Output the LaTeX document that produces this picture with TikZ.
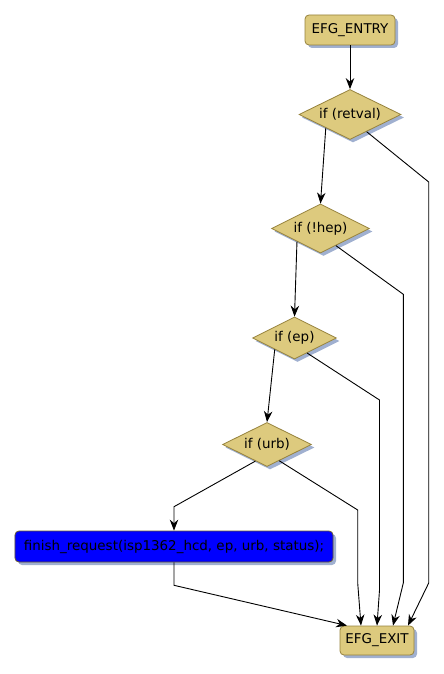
\documentclass[tikz,border=0pt]{standalone}
\usepackage{fontspec}
\setmainfont{DejaVu Sans}
\usetikzlibrary{shapes.geometric,shadows,arrows.meta,calc}
\definecolor{goldfill}{RGB}{221,202,126}
\definecolor{golddraw}{RGB}{150,130,60}
\definecolor{shadowc}{RGB}{160,176,208}
\definecolor{bluefill}{RGB}{0,0,255}
\tikzset{
  lbl/.style={font=\fontsize{13.5}{15}\selectfont, text=black},
  shad/.style={drop shadow={shadow xshift=3bp, shadow yshift=-3bp, fill=shadowc, opacity=1}},
  termbox/.style={lbl, shad, rectangle, rounded corners=4bp, draw=golddraw, fill=goldfill, line width=0.8bp, inner sep=0pt},
  cond/.style={lbl, shad, diamond, aspect=2, draw=golddraw, fill=goldfill, line width=0.8bp, inner sep=0pt},
  stmt/.style={lbl, shad, rectangle, rounded corners=4bp, draw=golddraw!70!black, fill=bluefill, line width=0.8bp, inner sep=0pt},
  edge/.style={draw=black, line width=0.9bp, -{Stealth[length=11bp,width=8.5bp]}},
}
\begin{document}
\begin{tikzpicture}[x=1bp,y=-1bp]
\useasboundingbox (0,0) rectangle (444,674);
\node[termbox, minimum width=90bp, minimum height=30bp] (entry) at (350,30) {EFG\_ENTRY};
\node[cond, minimum width=102bp, minimum height=50bp] (retval) at (350,114.5) {if (retval)};
\node[cond, minimum width=98bp, minimum height=49bp] (hep) at (320.5,228.5) {if (!hep)};
\node[cond, minimum width=84bp, minimum height=42bp] (ep) at (294.5,338) {if (ep)};
\node[cond, minimum width=89bp, minimum height=44bp] (urb) at (267,444.5) {if (urb)};
\node[stmt, minimum width=318bp, minimum height=31bp] (finish) at (174,546.5) {finish\_request(isp1362\_hcd, ep, urb, status);};
\node[termbox, minimum width=74bp, minimum height=29bp] (exit) at (377,640.5) {EFG\_EXIT};

\draw[edge] (entry.south) -- (retval.north);
\draw[edge] (retval.209) -- (hep.north);
\draw[edge] (retval.-46) -- (428.7,182) -- (428.7,583) -- ([xshift=31bp]exit.north);
\draw[edge] (hep.209) -- (ep.north);
\draw[edge] (hep.-48.5) -- (403.3,294.3) -- (403.3,583) -- ([xshift=16bp]exit.north);
\draw[edge] (ep.210.5) -- (urb.north);
\draw[edge] (ep.-50) -- (379.5,400) -- (379.5,590) -- (exit.north);
\draw[edge] (urb.235) -- (174,506.7) -- (finish.north);
\draw[edge] (urb.-53) -- (357.7,510) -- (357.7,583) -- ([xshift=-16bp]exit.north);
\draw[edge] (finish.south) -- (174,585.3) -- ([xshift=-30bp]exit.north);
\end{tikzpicture}
\end{document}
